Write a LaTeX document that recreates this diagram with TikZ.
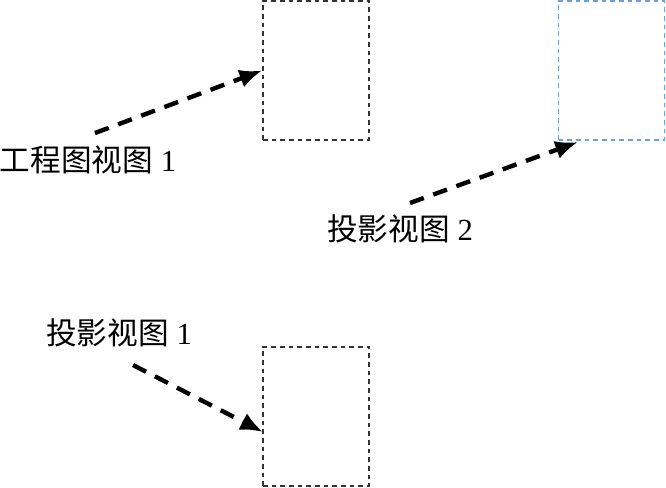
\documentclass[tikz,border=0pt]{standalone}
\usepackage{fontspec}
\setmainfont{Liberation Serif}
\newfontfamily\cjk{Noto Sans CJK SC}
\usetikzlibrary{arrows.meta}
\definecolor{viewblue}{RGB}{105,160,225}

\tikzset{
  viewbox/.style={draw=black!80,line width=1.3pt,dash pattern=on 3.5pt off 3pt,
    minimum width=79.5pt,minimum height=104.25pt,inner sep=0},
  pointer/.style={line width=3.3pt,dash pattern=on 11pt off 7.5pt,
    -{Latex[length=17pt,width=14pt]}},
  caption/.style={font=\fontsize{23}{26}\selectfont,inner sep=0}
}

\begin{document}
\begin{tikzpicture}[x=0.75pt,y=-0.75pt]
\useasboundingbox (0,0) rectangle (666,487);
% the three view frames
\node[viewbox] (viewA) at (316,70.5) {};
\node[viewbox,draw=viewblue] (viewB) at (611.5,70.5) {};
\node[viewbox] (viewC) at (316,416.5) {};
% labels
\node[caption] (lblA) at (88,160) {{\cjk 工程图视图} 1};
\node[caption] (lblB) at (400,229) {{\cjk 投影视图} 2};
\node[caption] (lblC) at (119,333) {{\cjk 投影视图} 1};
% arrows
\coordinate (tailA) at (95,133);
\coordinate (tailB) at (410,203);
\coordinate (tailC) at (133,365);
\coordinate (tipB) at (578,142);
\coordinate (tipC) at (263,432);
\draw[pointer] (tailA) -- (viewA.west);
\draw[pointer] (tailB) -- (tipB);
\draw[pointer] (tailC) -- (tipC);
\end{tikzpicture}
\end{document}
